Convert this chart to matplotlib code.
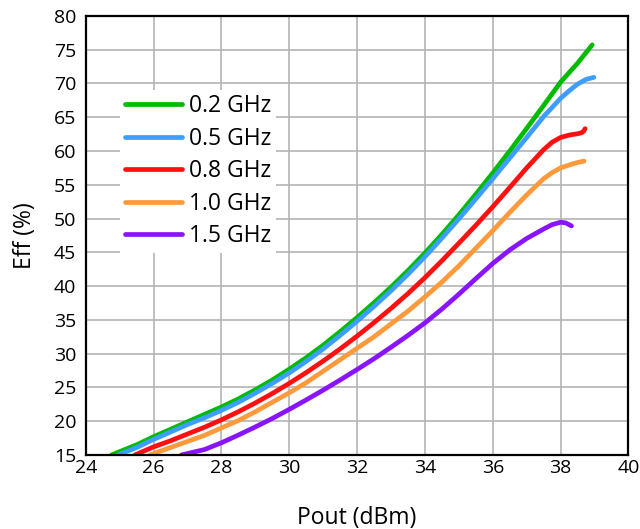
import matplotlib.pyplot as plt

plt.rcParams['font.family'] = ['Open Sans', 'DejaVu Sans']

# data (Pout in dBm, Eff in %)
x_02 = [24.76, 25.5, 26, 26.5, 27, 27.5, 28, 28.5, 29, 29.5, 30, 30.5, 31, 31.5, 32, 32.5,
        33, 33.5, 34, 34.5, 35, 35.5, 36, 36.5, 37, 37.5, 38, 38.5, 38.93]
y_02 = [15, 16.5, 17.7, 18.8, 19.9, 21.0, 22.1, 23.3, 24.65, 26.1, 27.7, 29.4, 31.25, 33.25, 35.35, 37.55,
        39.85, 42.3, 44.9, 47.65, 50.55, 53.6, 56.75, 60.0, 63.35, 66.75, 70.2, 73.0, 75.7]

x_05 = [24.95, 25.5, 26, 26.5, 27, 27.5, 28, 28.5, 29, 29.5, 30, 30.5, 31, 31.5, 32, 32.5,
        33, 33.5, 34, 34.5, 35, 35.5, 36, 36.5, 37, 37.5, 38, 38.25, 38.5, 38.75, 38.98]
y_05 = [15, 16.1, 17.3, 18.4, 19.5, 20.5, 21.6, 22.8, 24.15, 25.6, 27.15, 28.85, 30.7, 32.7, 34.8, 37.0,
        39.3, 41.75, 44.35, 47.1, 49.95, 52.9, 55.9, 58.95, 62.0, 65.1, 67.8, 68.9, 69.9, 70.6, 70.9]

x_08 = [25.45, 26, 26.5, 27, 27.5, 28, 28.5, 29, 29.5, 30, 30.5, 31, 31.5, 32, 32.5, 33, 33.5,
        34, 34.5, 35, 35.5, 36, 36.5, 37, 37.5, 37.75, 38, 38.25, 38.5, 38.62, 38.68, 38.72]
y_08 = [15, 16.2, 17.1, 18.1, 19.1, 20.2, 21.4, 22.7, 24.1, 25.6, 27.2, 28.9, 30.7, 32.6, 34.6, 36.7, 38.9,
        41.25, 43.75, 46.35, 49.0, 51.75, 54.6, 57.5, 60.2, 61.3, 62.0, 62.35, 62.55, 62.7, 62.95, 63.3]

x_10 = [25.9, 26, 26.5, 27, 27.5, 28, 28.5, 29, 29.5, 30, 30.5, 31, 31.5, 32, 32.5, 33, 33.5,
        34, 34.5, 35, 35.5, 36, 36.5, 37, 37.5, 37.75, 38, 38.3, 38.5, 38.69]
y_10 = [15, 15.2, 16.1, 17.0, 17.9, 19.0, 20.1, 21.4, 22.8, 24.2, 25.7, 27.4, 29.1, 30.8, 32.5, 34.4, 36.3,
        38.4, 40.6, 43.0, 45.6, 48.2, 50.9, 53.5, 55.9, 56.8, 57.5, 58.0, 58.3, 58.5]

x_15 = [26.82, 27.5, 28, 28.5, 29, 29.5, 30, 30.5, 31, 31.5, 32, 32.5, 33, 33.5, 34, 34.5,
        35, 35.5, 36, 36.5, 37, 37.5, 37.75, 38, 38.15, 38.32]
y_15 = [15, 15.8, 16.8, 17.95, 19.15, 20.4, 21.75, 23.15, 24.6, 26.1, 27.65, 29.25, 30.95, 32.7, 34.55, 36.6,
        38.8, 41.1, 43.35, 45.35, 47.05, 48.45, 49.1, 49.45, 49.35, 48.9]

labels = ['0.2 GHz', '0.5 GHz', '0.8 GHz', '1.0 GHz', '1.5 GHz']
colors = ['#00bb00', '#3d9eff', '#ff1010', '#ff9a3c', '#8a14ff']
series = [(x_02, y_02), (x_05, y_05), (x_08, y_08), (x_10, y_10), (x_15, y_15)]

fig = plt.figure(figsize=(6.4, 5.29), dpi=100)
ax = fig.add_axes([0.134, 0.14, 0.848, 0.83])

for (xs, ys), lab, c in zip(series, labels, colors):
    ax.plot(xs, ys, color=c, lw=3.4, label=lab,
            solid_capstyle='round', solid_joinstyle='round')

ax.set_xlim(24, 40)
ax.set_ylim(15, 80)
ax.set_xticks(range(24, 41, 2))
ax.set_yticks(range(15, 81, 5))
ax.grid(True, color='#b4b4b4', lw=1.2)
ax.set_axisbelow(True)
ax.tick_params(length=0, labelsize=14)
ax.tick_params(axis='x', pad=3)
ax.tick_params(axis='y', pad=7)
for s in ax.spines.values():
    s.set_color('black')
    s.set_linewidth(1.6)

ax.set_xlabel('Pout (dBm)', fontsize=16.5, labelpad=21)
ax.set_ylabel('Eff (%)', fontsize=16.5, labelpad=12)

leg = ax.legend(loc='upper left', bbox_to_anchor=(0.042, 0.858), fontsize=16.5,
                frameon=True, fancybox=False, edgecolor='none', facecolor='white',
                framealpha=1, handlelength=2.5, handletextpad=0.3,
                labelspacing=0.37, borderpad=0.2)

fig.savefig('out.png', dpi=100)
